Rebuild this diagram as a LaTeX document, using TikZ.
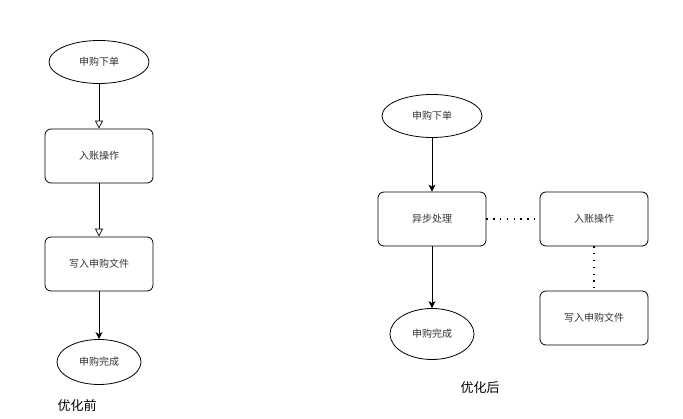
\documentclass[tikz,border=0pt]{standalone}
\usepackage{fontspec}
\setmainfont{Noto Sans CJK SC}
\usetikzlibrary{shapes.geometric,arrows.meta}
\definecolor{txtgray}{HTML}{333333}
\tikzset{
  x=1pt,y=-1pt,
  ell/.style={draw,ellipse,line width=0.8pt,minimum width=#1,minimum height=43pt,inner sep=0pt,font=\fontsize{10}{12}\selectfont,text=txtgray},
  ell/.default=100pt,
  boxnode/.style={draw,rounded corners=6pt,line width=0.8pt,minimum width=108pt,minimum height=54pt,inner sep=0pt,font=\fontsize{10}{12}\selectfont,text=txtgray},
  openarr/.style={-{Triangle[open,length=8pt,width=8pt]},line width=0.7pt},
  fillarr/.style={-{Stealth[length=7pt,width=7pt,inset=2pt]},line width=0.8pt},
  dotline/.style={line width=1.3pt,dash pattern=on 1.3pt off 5.5pt},
  caption/.style={font=\fontsize{13}{15}\selectfont,inner sep=0pt}
}
\begin{document}
\begin{tikzpicture}
\useasboundingbox (0,0) rectangle (683,419);
% left
\node[ell] (l1) at (99,62) {申购下单};
\node[boxnode] (l2) at (99,156) {入账操作};
\node[boxnode] (l3) at (99,264) {写入申购文件};
\node[ell=84pt,minimum height=45pt] (l4) at (99,362) {申购完成};
\draw[openarr] (l1) -- (l2);
\draw[openarr] (l2) -- (l3);
\draw[fillarr] (l3) -- (l4);
\node[caption] (cl) at (77,406) {优化前};
% right
\node[ell] (r1) at (432,116) {申购下单};
\node[boxnode] (r2) at (432,219) {异步处理};
\node[ell=84pt,minimum height=51pt] (r3) at (432,334) {申购完成};
\node[boxnode] (r4) at (594,219) {入账操作};
\node[boxnode] (r5) at (594,318) {写入申购文件};
\draw[fillarr] (r1) -- (r2);
\draw[fillarr] (r2) -- (r3);
\draw[dotline] (r2) -- (r4);
\draw[dotline] (r4) -- (r5);
\node[caption] (cr) at (480,388) {优化后};
\end{tikzpicture}
\end{document}
